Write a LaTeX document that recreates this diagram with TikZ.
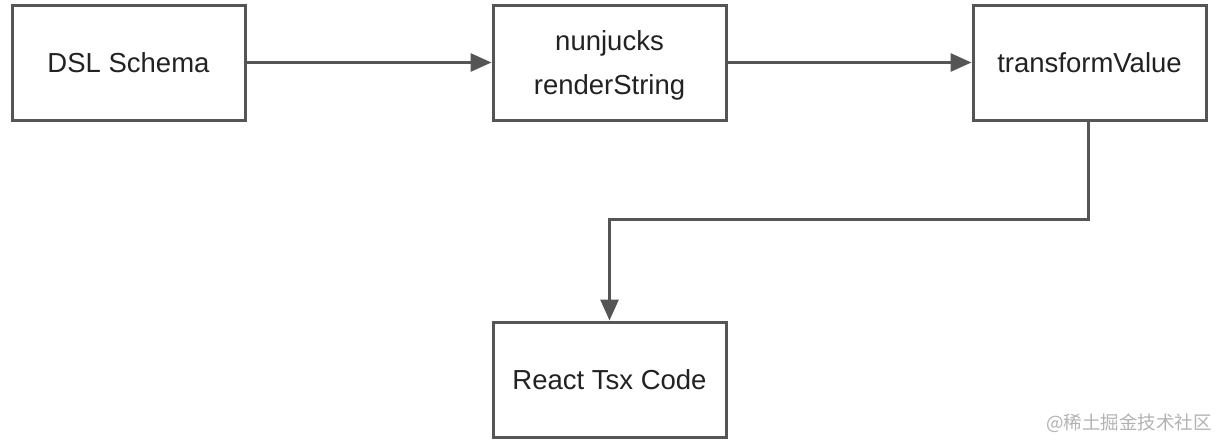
\documentclass[tikz,border=0pt]{standalone}
\usepackage{fontspec}
\setmainfont{Liberation Sans}
\newfontfamily\cjk{Noto Sans CJK SC}
\usetikzlibrary{arrows.meta}
\definecolor{edge}{HTML}{555555}
\definecolor{txt}{HTML}{222222}
\tikzset{
  stepbox/.style={draw=edge, line width=3pt, fill=white, minimum width=233pt, minimum height=115pt, inner sep=0pt, text=txt, font=\fontsize{27.5}{44}\selectfont, align=center},
  steptext/.style={inner sep=0pt, text=txt, font=\fontsize{27.5}{44}\selectfont, align=center},
  conn/.style={draw=edge, line width=3pt, -{Triangle[length=21pt,width=18pt]}},
}
\begin{document}
\begin{tikzpicture}[x=1pt,y=1pt]
\useasboundingbox (0,0) rectangle (1222,-442);
\node[stepbox] (dsl) at (128.5,-62.5) {DSL Schema};
\node[stepbox] (nun) at (609.5,-62.5) {};
\node[steptext] (nuntext) at ([yshift=-3pt]nun.center) {nunjucks\\renderString};
\node[stepbox] (tv) at (1089.5,-62.5) {transformValue};
\node[stepbox] (rc) at (609.5,-379.5) {React Tsx Code};
\coordinate (bend) at (1088,-219);
\draw[conn] (dsl.east) -- (nun.west);
\draw[conn] (nun.east) -- (tv.west);
\draw[conn] (tv.south -| bend) -- (bend) -- (bend -| rc.north) -- (rc.north);
\node[anchor=east, text=black!30, font=\cjk\fontsize{18.5}{18.5}\selectfont, inner sep=0pt] (wm) at (1212,-423) {@稀土掘金技术社区};
\end{tikzpicture}
\end{document}
